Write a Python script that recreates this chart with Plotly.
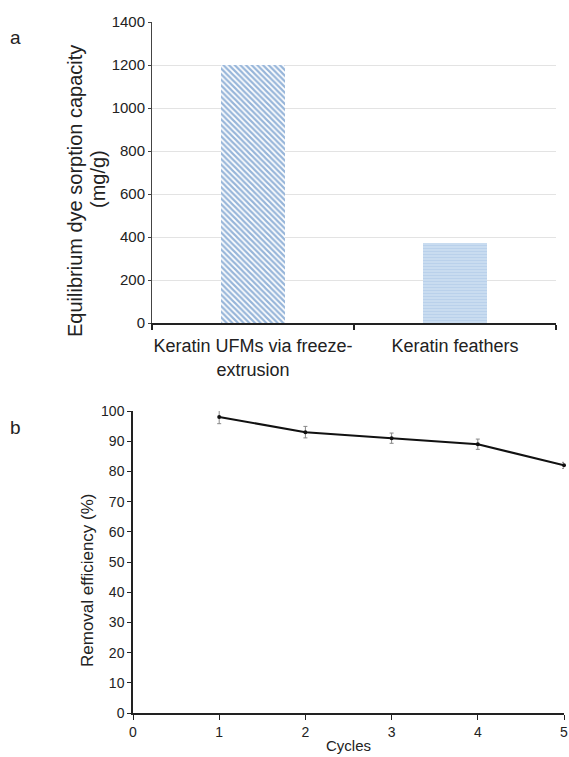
import plotly.graph_objects as go

# Panel a data
categories = ["Keratin UFMs via freeze-<br>extrusion", "Keratin feathers"]
capacity = [1200, 370]
ytitle_a = ["Equilibrium dye sorption capacity", "(mg/g)"]

# Panel b data
cycles = [1, 2, 3, 4, 5]
efficiency = [98, 93, 91, 89, 82]
efficiency_err = [2.2, 1.9, 1.7, 1.7, 1.0]
ytitle_b = "Removal efficiency (%)"
xtitle_b = "Cycles"

W, H = 569, 757
FONT = "Liberation Sans, Arial, sans-serif"
TXT = "#222222"

fig = go.Figure()

fig.add_trace(go.Bar(
    x=[0], y=[capacity[0]], width=0.32,
    marker=dict(
        color="#2F6CB4",
        line=dict(width=0),
        pattern=dict(shape="\\", fgcolor="#2F6CB4", bgcolor="white",
                     size=4, solidity=0.55, fillmode="overlay"),
    ),
    xaxis="x", yaxis="y", showlegend=False,
))
fig.add_trace(go.Bar(
    x=[1], y=[capacity[1]], width=0.32,
    marker=dict(
        color="#C6DAEF",
        line=dict(width=0),
        pattern=dict(shape="-", fgcolor="#A9C4E4", bgcolor="#C9DCF0",
                     size=3, solidity=0.3, fillmode="overlay"),
    ),
    xaxis="x", yaxis="y", showlegend=False,
))

fig.add_trace(go.Scatter(
    x=cycles, y=efficiency, mode="lines+markers",
    line=dict(color="#111111", width=2),
    marker=dict(color="#111111", size=4),
    error_y=dict(type="data", array=efficiency_err, color="#888888", thickness=1, width=2),
    cliponaxis=False,
    xaxis="x2", yaxis="y2", showlegend=False,
))

def px_x(p):
    return p / W

def px_y(p):
    return 1 - p / H

def label(text, x, y, size, angle=0):
    return dict(text=text, x=px_x(x), y=px_y(y), xref="paper", yref="paper",
                xanchor="center", yanchor="middle", showarrow=False,
                textangle=angle, font=dict(size=size, color=TXT))

fig.update_layout(
    width=W, height=H,
    margin=dict(l=0, r=0, t=0, b=0),
    paper_bgcolor="white", plot_bgcolor="white",
    font=dict(family=FONT, color=TXT),
    bargap=0,
    xaxis=dict(
        domain=[px_x(152), px_x(556)], anchor="y", automargin=False,
        range=[-0.5, 1.5], tickmode="array", tickvals=[0, 1], ticktext=categories,
        ticks="outside", ticklen=6, tickcolor="rgba(0,0,0,0)",
        tickfont=dict(size=18, color=TXT),
        showline=True, linecolor="#222222", linewidth=1.5,
        showgrid=False, zeroline=False,
        minor=dict(tickmode="linear", tick0=-0.5, dtick=1, ticks="outside", ticklen=5,
                   tickcolor="#222222", tickwidth=1.5, showgrid=False),
    ),
    yaxis=dict(
        domain=[px_y(323), px_y(22)], anchor="x", automargin=False,
        range=[0, 1400], tickmode="linear", tick0=0, dtick=200,
        ticks="outside", ticklen=3, tickcolor="#444444",
        tickfont=dict(size=15, color=TXT),
        showline=True, linecolor="#444444", linewidth=1,
        showgrid=True, gridcolor="#E3E3E3", gridwidth=1, zeroline=False,
    ),
    xaxis2=dict(
        domain=[px_x(133), px_x(564)], anchor="y2", automargin=False,
        range=[0, 5], tickmode="linear", tick0=0, dtick=1,
        ticks="outside", ticklen=5, tickcolor="#222222",
        tickfont=dict(size=14, color=TXT),
        showline=True, linecolor="#222222", linewidth=1.5,
        showgrid=False, zeroline=False,
        title=dict(text=xtitle_b, font=dict(size=15, color=TXT), standoff=2),
    ),
    yaxis2=dict(
        domain=[px_y(713), px_y(411)], anchor="x2", automargin=False,
        range=[0, 100], tickmode="linear", tick0=0, dtick=10,
        ticks="outside", ticklen=4, tickcolor="#222222",
        tickfont=dict(size=14, color=TXT),
        showline=True, linecolor="#222222", linewidth=1.5,
        showgrid=False, zeroline=False,
    ),
    annotations=[
        label("a", 16, 37, 19),
        label("b", 16, 427, 19),
        label(ytitle_a[0], 75, 191, 20, -90),
        label(ytitle_a[1], 98, 179, 20, -90),
        label(ytitle_b, 87, 580, 17, -90),
    ],
)

fig.write_html(
    "out.html",
    config={"displayModeBar": False},
    post_script="document.body.style.margin='0';document.documentElement.style.overflow='hidden';",
)
